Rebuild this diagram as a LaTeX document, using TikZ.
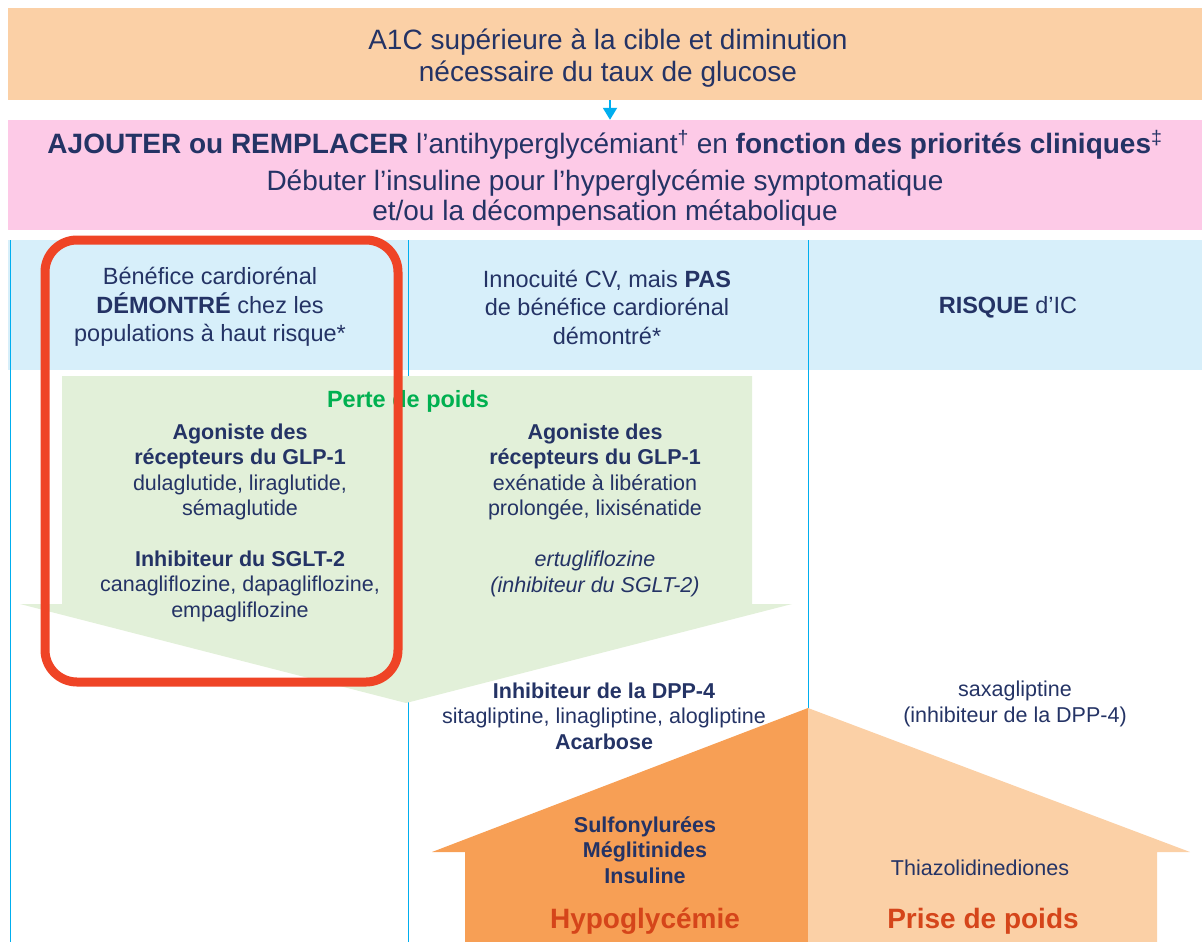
\documentclass[tikz,border=0pt]{standalone}
\usepackage{fontspec}
\setmainfont{Liberation Sans}
\usetikzlibrary{arrows.meta,positioning}
\definecolor{navy}{HTML}{243365}
\definecolor{peach}{HTML}{FBD0A6}
\definecolor{pinkbg}{HTML}{FDCAE7}
\definecolor{skybg}{HTML}{D7EFFA}
\definecolor{cyanline}{HTML}{00AEEF}
\definecolor{greenbg}{HTML}{E2F0D9}
\definecolor{greentxt}{HTML}{00B050}
\definecolor{orangedk}{HTML}{F79F55}
\definecolor{redbox}{HTML}{EF4426}
\definecolor{redtxt}{HTML}{D5451A}
\tikzset{
  bigtxt/.style={font=\fontsize{28}{32}\selectfont},
  coltxt/.style={font=\fontsize{23.5}{28.5}\selectfont},
  smalltxt/.style={font=\fontsize{21.5}{25.5}\selectfont},
  risktxt/.style={font=\fontsize{28}{30}\selectfont\bfseries, text=redtxt},
  bandbox/.style={minimum width=1194, inner sep=0pt}
}
\begin{document}
\begin{tikzpicture}[x=1pt,y=-1pt]
        \useasboundingbox (0,0) rectangle (1202,942);
        % bands
        \node[bandbox, fill=peach, minimum height=92] (cible) at (605,54) {};
        \node[bandbox, fill=pinkbg, minimum height=110] (ajout) at (605,175) {};
        \fill[skybg] (8,240) rectangle (1202,370);
        \begin{scope}[cyanline, line width=1]
        \draw (10,240) -- (10,942);
        \draw (408,240) -- (408,942);
        \draw (808,240) -- (808,710);
        \end{scope}
        % weight loss arrow
        \fill[greenbg] (62,376) -- (752,376) -- (752,604) -- (792,604)
              -- (406,703) -- (20,604) -- (62,604) -- cycle;
        % house
        \fill[orangedk] (808,708) -- (432,852) -- (465,852) -- (465,942) -- (808,942) -- cycle;
        \fill[peach] (808,708) -- (1190,852) -- (1157,852) -- (1157,942) -- (808,942) -- cycle;
        \begin{scope}[every node/.style={text=navy,align=center,inner sep=0pt}]
        \node[bigtxt] (cibletxt) at (608,58)
              {A1C supérieure à la cible et diminution\\nécessaire du taux de glucose};
        \node[bigtxt] (ajouttxt) at (605,178)
              {\textbf{AJOUTER ou REMPLACER} l’antihyperglycémiant\textsuperscript{†} en \textbf{fonction des priorités cliniques}\textsuperscript{‡}\\[5pt]
               Débuter l’insuline pour l’hyperglycémie symptomatique\\[-2pt]et/ou la décompensation métabolique};
        \node[coltxt] (colA) at (210,307) {Bénéfice cardiorénal\\\textbf{DÉMONTRÉ} chez les\\populations à haut risque*};
        \node[coltxt] (colB) at (607,307) {Innocuité CV, mais \textbf{PAS}\\de bénéfice cardiorénal\\démontré*};
        \node[coltxt] (colC) at (1008,307) {\textbf{RISQUE} d’IC};
        \node[font=\fontsize{23.5}{26}\selectfont\bfseries, text=greentxt] (perte) at (408,401) {Perte de poids};
        \node[smalltxt] (glpA) at (240,472) {\textbf{Agoniste des}\\\textbf{récepteurs du GLP-1}\\dulaglutide, liraglutide,\\sémaglutide};
        \node[smalltxt] (sgltA) at (240,586) {\textbf{Inhibiteur du SGLT-2}\\canagliflozine, dapagliflozine,\\empagliflozine};
        \node[smalltxt] (glpB) at (595,472) {\textbf{Agoniste des}\\\textbf{récepteurs du GLP-1}\\exénatide à libération\\prolongée, lixisénatide};
        \node[smalltxt, font=\fontsize{21.5}{25.5}\selectfont\itshape] (ertu) at (595,574) {ertugliflozine\\(inhibiteur du SGLT-2)};
        \node[smalltxt] (dpp) at (604,716) {\textbf{Inhibiteur de la DPP-4}\\sitagliptine, linagliptine, alogliptine\\\textbf{Acarbose}};
        \node[smalltxt] (saxa) at (1015,704) {saxagliptine\\(inhibiteur de la DPP-4)};
        \node[smalltxt, font=\fontsize{21.5}{25.5}\selectfont\bfseries] (sulfo) at (645,850) {Sulfonylurées\\Méglitinides\\Insuline};
        \node[smalltxt] (thiazo) at (980,868) {Thiazolidinediones};
        \node[risktxt] (hypo) at (645,921) {Hypoglycémie};
        \node[risktxt] (prise) at (983,921) {Prise de poids};
        \end{scope}
        \draw[cyanline, line width=2, -{Triangle[width=14pt,length=12pt]}]
              ([xshift=5pt]cible.south) -- ([xshift=5pt]ajout.north);
        % highlight
        \draw[redbox, line width=9, rounded corners=32] (45,240) rectangle (398,682);
        \end{tikzpicture}
\end{document}
